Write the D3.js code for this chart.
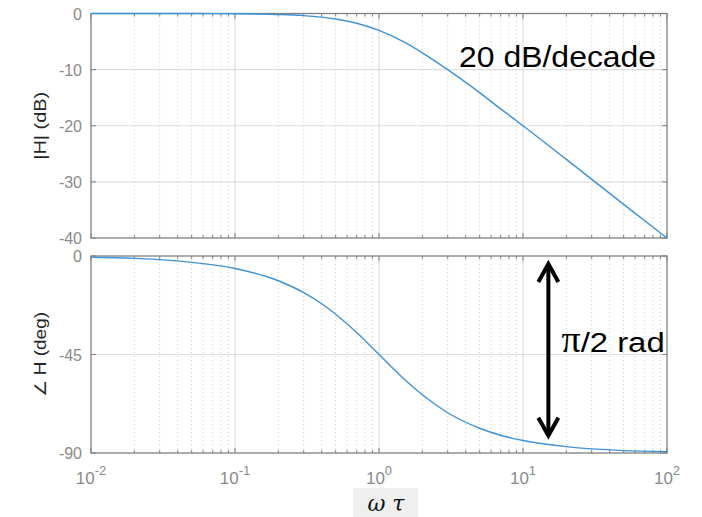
<!DOCTYPE html>
<html>
<head>
<meta charset="utf-8">
<script src="https://cdn.jsdelivr.net/npm/d3@7"></script>
<style>
  body { margin: 0; background: #fff; }
  svg { display: block; font-family: "Liberation Sans", Arial, sans-serif; }
</style>
</head>
<body>
<svg id="chart" width="702" height="517"></svg>
<script>
// values (omega*tau, magnitude in dB, phase in degrees)
const omega = [0.01, 0.02, 0.05, 0.1, 0.2, 0.3, 0.4, 0.5, 0.7, 1, 1.5, 2, 3, 5, 7, 10, 20, 50, 100];
const magDb = [0, 0, -0.01, -0.04, -0.17, -0.37, -0.64, -0.97, -1.74, -3.0, -5.1, -7.0, -10.0, -14.1, -17.0, -20.0, -26.0, -34.0, -40.0];
const phaseDeg = [-0.6, -1.1, -2.9, -5.7, -11.3, -16.7, -21.8, -26.6, -35.0, -45.0, -56.3, -63.4, -71.6, -78.7, -81.9, -84.3, -87.1, -88.9, -89.4];

const xTickExps = [-2, -1, 0, 1, 2];
const magTicks = [0, -10, -20, -30, -40];
const phaseTicks = [0, -45, -90];

const svg = d3.select('#chart');
const left = 91, right = 667;
const gridColor = '#dedede', frameColor = '#808080', tickText = '#8a8a8a';
const lineColor = '#3f92d6';

const x = d3.scaleLog().domain([0.01, 100]).range([left, right]);
const yMag = d3.scaleLinear().domain([-40, 0]).range([238, 13.5]);
const yPh = d3.scaleLinear().domain([-90, 0]).range([453, 256]);

const minorTicks = [];
xTickExps.slice(0, -1).forEach(e => {
    for (let k = 2; k <= 9; k++) minorTicks.push(k * Math.pow(10, e));
});
const majorTicks = xTickExps.map(e => Math.pow(10, e));

function drawPanel(y, ticks, values, label, labelLen) {
    const [y0, y1] = y.range();
    const g = svg.append('g');

    // dotted minor grid
    g.selectAll('.minor').data(minorTicks).enter().append('line')
        .attr('x1', d => x(d)).attr('x2', d => x(d))
        .attr('y1', y1).attr('y2', y0)
        .attr('stroke', '#cacaca').attr('stroke-width', 1)
        .attr('stroke-dasharray', '1,3');

    // major grid
    g.selectAll('.vmajor').data(majorTicks.slice(1, -1)).enter().append('line')
        .attr('x1', d => x(d)).attr('x2', d => x(d))
        .attr('y1', y1).attr('y2', y0)
        .attr('stroke', gridColor).attr('stroke-width', 1.2);
    g.selectAll('.hmajor').data(ticks.slice(1, -1)).enter().append('line')
        .attr('x1', left).attr('x2', right)
        .attr('y1', d => y(d)).attr('y2', d => y(d))
        .attr('stroke', gridColor).attr('stroke-width', 1.2);

    // inward ticks on all four sides
    const tickLines = (data, len, horiz) => {
        data.forEach(d => {
            if (horiz) {
                g.append('line').attr('x1', x(d)).attr('x2', x(d)).attr('y1', y0).attr('y2', y0 - len)
                    .attr('stroke', frameColor);
                g.append('line').attr('x1', x(d)).attr('x2', x(d)).attr('y1', y1).attr('y2', y1 + len)
                    .attr('stroke', frameColor);
            } else {
                g.append('line').attr('x1', left).attr('x2', left + len).attr('y1', y(d)).attr('y2', y(d))
                    .attr('stroke', frameColor);
                g.append('line').attr('x1', right).attr('x2', right - len).attr('y1', y(d)).attr('y2', y(d))
                    .attr('stroke', frameColor);
            }
        });
    };
    tickLines(minorTicks, 3, true);
    tickLines(majorTicks, 5, true);
    tickLines(ticks, 5, false);

    g.append('rect')
        .attr('x', left).attr('y', y1)
        .attr('width', right - left).attr('height', y0 - y1)
        .attr('fill', 'none').attr('stroke', frameColor).attr('stroke-width', 1.3);

    // y tick labels
    g.selectAll('.ylab').data(ticks).enter().append('text')
        .attr('x', 82).attr('y', d => y(d) + 6)
        .attr('text-anchor', 'end')
        .attr('font-size', 16).attr('fill', tickText)
        .text(d => d);

    // axis title
    g.append('text')
        .attr('transform', `translate(46,${(y0 + y1) / 2}) rotate(-90)`)
        .attr('text-anchor', 'middle')
        .attr('font-size', 16).attr('fill', '#262626')
        .attr('textLength', labelLen).attr('lengthAdjust', 'spacingAndGlyphs')
        .text(label);

    const line = d3.line()
        .x((d, i) => x(omega[i]))
        .y(d => y(d))
        .curve(d3.curveMonotoneX);
    g.append('path')
        .datum(values)
        .attr('d', line)
        .attr('fill', 'none')
        .attr('stroke', lineColor)
        .attr('stroke-width', 1.4);
}

drawPanel(yMag, magTicks, magDb, '|H| (dB)', 68);
drawPanel(yPh, phaseTicks, phaseDeg, '\u2220 H (deg)', 85);

// x tick labels 10^n
const xl = svg.selectAll('.xlab').data(xTickExps).enter().append('text')
    .attr('x', d => x(Math.pow(10, d)))
    .attr('y', 484)
    .attr('text-anchor', 'middle')
    .attr('font-size', 17).attr('fill', tickText);
xl.append('tspan').text('10');
xl.append('tspan').attr('dy', -9).attr('font-size', 13).text(d => d);

// x axis title with grey background
svg.append('rect')
    .attr('x', 353).attr('y', 488).attr('width', 65).attr('height', 29)
    .attr('fill', '#efefef');
svg.append('text')
    .attr('x', 386).attr('y', 511)
    .attr('text-anchor', 'middle')
    .attr('font-family', '"DejaVu Serif", serif')
    .attr('font-style', 'italic')
    .attr('font-size', 22).attr('fill', '#111')
    .text('\u03c9 \u03c4');

// annotations
svg.append('text')
    .attr('x', x(3.6)).attr('y', yMag(-9.6))
    .attr('font-size', 29).attr('fill', '#000')
    .attr('textLength', 197).attr('lengthAdjust', 'spacingAndGlyphs')
    .text('20 dB/decade');

const arrowOmega = 15, arrowTop = -2.7, arrowBottom = -83;
const ax = x(arrowOmega), ayT = yPh(arrowTop), ayB = yPh(arrowBottom);
svg.append('line')
    .attr('x1', ax).attr('x2', ax).attr('y1', ayT + 2).attr('y2', ayB - 2)
    .attr('stroke', '#000').attr('stroke-width', 4);
svg.append('path')
    .attr('d', `M${ax - 10},${ayT + 20} L${ax},${ayT + 2} L${ax + 10},${ayT + 20}`)
    .attr('fill', 'none').attr('stroke', '#000').attr('stroke-width', 4);
svg.append('path')
    .attr('d', `M${ax - 10},${ayB - 20} L${ax},${ayB - 2} L${ax + 10},${ayB - 20}`)
    .attr('fill', 'none').attr('stroke', '#000').attr('stroke-width', 4);

const pi = svg.append('text')
    .attr('x', x(18.5)).attr('y', yPh(-43.9))
    .attr('fill', '#000');
pi.append('tspan')
    .attr('font-family', '"Liberation Serif", serif')
    .attr('font-size', 38).text('\u03c0');
pi.append('tspan')
    .attr('font-size', 27)
    .attr('textLength', 84).attr('lengthAdjust', 'spacingAndGlyphs')
    .text('/2 rad');
</script>
</body>
</html>
